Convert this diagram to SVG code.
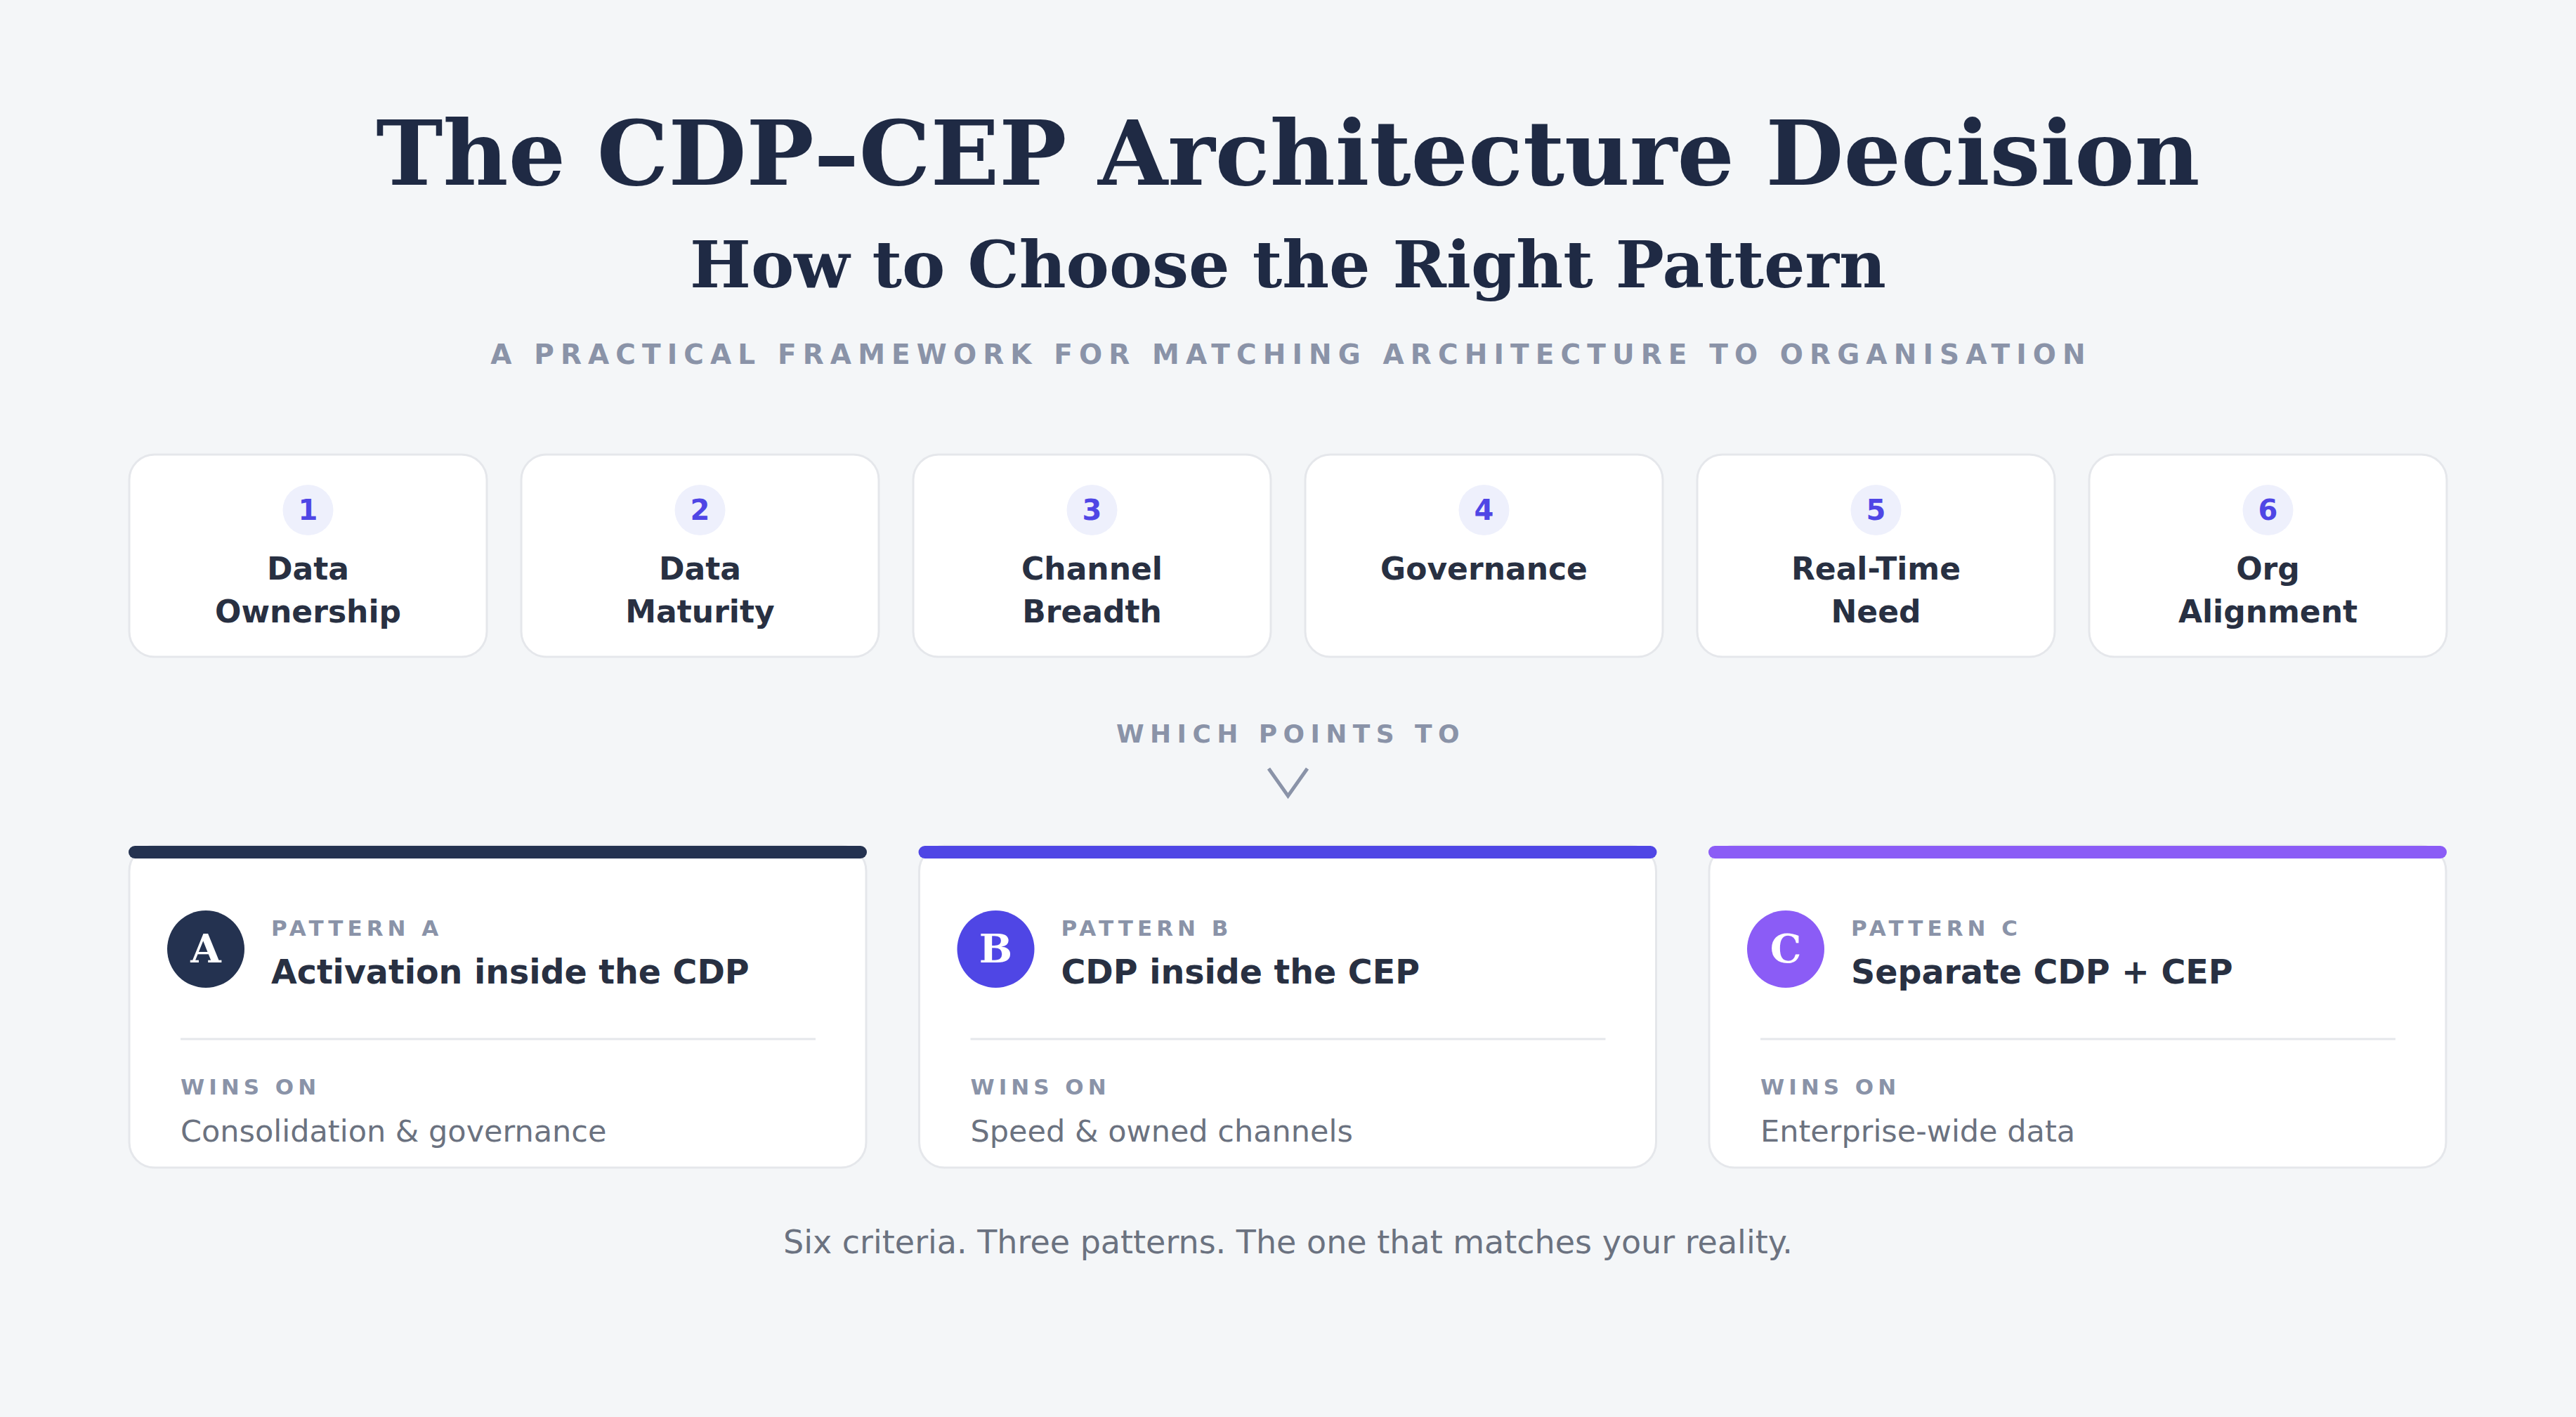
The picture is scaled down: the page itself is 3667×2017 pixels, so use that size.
<svg xmlns="http://www.w3.org/2000/svg" width="3667" height="2017" viewBox="0 0 3667 2017">
<style>
.serif{font-family:"DejaVu Serif","Liberation Serif",serif;font-weight:bold}
.sans{font-family:"DejaVu Sans","Liberation Sans",sans-serif}
.title{fill:#1f2a44}
.tag{font-weight:bold;fill:#8a93a8}
.card{fill:#ffffff;stroke:#e5e7eb;stroke-width:3}
.numc{fill:#eef0fc}
.num{font-weight:bold;font-size:40px;fill:#4f46e5;text-anchor:middle}
.lab{font-weight:bold;font-size:44px;fill:#283042;text-anchor:middle}
.ptag{font-weight:bold;font-size:31px;fill:#8a93a8;letter-spacing:6px}
.pname{font-weight:bold;font-size:47.5px;fill:#283042}
.win{font-size:43px;fill:#6b7280}
.div{stroke:#e5e7eb;stroke-width:3}
.letter{font-size:56px;fill:#ffffff;text-anchor:middle}
</style>
<rect x="0" y="0" width="3667" height="2017" fill="#f4f6f8"/>

<g id="header">
<text class="serif title" x="1833.5" y="263" font-size="128" text-anchor="middle">The CDP–CEP Architecture Decision</text>
<text class="serif title" x="1833.5" y="409" font-size="92" text-anchor="middle">How to Choose the Right Pattern</text>
<text class="sans tag" x="1838" y="518" font-size="39" letter-spacing="9.1" text-anchor="middle">A PRACTICAL FRAMEWORK FOR MATCHING ARCHITECTURE TO ORGANISATION</text>
</g>

<g id="criterion-1">
<rect class="card" x="184" y="647" width="509" height="288" rx="36"/>
<circle class="numc" cx="438.5" cy="726" r="36"/>
<text class="sans num" x="438.5" y="740">1</text>
<text class="sans lab" x="438.5" y="825">Data</text>
<text class="sans lab" x="438.5" y="886">Ownership</text>
</g>
<g id="criterion-2">
<rect class="card" x="742" y="647" width="509" height="288" rx="36"/>
<circle class="numc" cx="996.5" cy="726" r="36"/>
<text class="sans num" x="996.5" y="740">2</text>
<text class="sans lab" x="996.5" y="825">Data</text>
<text class="sans lab" x="996.5" y="886">Maturity</text>
</g>
<g id="criterion-3">
<rect class="card" x="1300" y="647" width="509" height="288" rx="36"/>
<circle class="numc" cx="1554.5" cy="726" r="36"/>
<text class="sans num" x="1554.5" y="740">3</text>
<text class="sans lab" x="1554.5" y="825">Channel</text>
<text class="sans lab" x="1554.5" y="886">Breadth</text>
</g>
<g id="criterion-4">
<rect class="card" x="1858" y="647" width="509" height="288" rx="36"/>
<circle class="numc" cx="2112.5" cy="726" r="36"/>
<text class="sans num" x="2112.5" y="740">4</text>
<text class="sans lab" x="2112.5" y="825">Governance</text>
</g>
<g id="criterion-5">
<rect class="card" x="2416" y="647" width="509" height="288" rx="36"/>
<circle class="numc" cx="2670.5" cy="726" r="36"/>
<text class="sans num" x="2670.5" y="740">5</text>
<text class="sans lab" x="2670.5" y="825">Real-Time</text>
<text class="sans lab" x="2670.5" y="886">Need</text>
</g>
<g id="criterion-6">
<rect class="card" x="2974" y="647" width="509" height="288" rx="36"/>
<circle class="numc" cx="3228.5" cy="726" r="36"/>
<text class="sans num" x="3228.5" y="740">6</text>
<text class="sans lab" x="3228.5" y="825">Org</text>
<text class="sans lab" x="3228.5" y="886">Alignment</text>
</g>

<g id="connectors">
<text class="sans tag" x="1837.5" y="1057" font-size="36" letter-spacing="8.4" text-anchor="middle">WHICH POINTS TO</text>
<polyline points="1806,1094 1833.5,1133 1861,1094" fill="none" stroke="#8a93a8" stroke-width="5"/>
</g>

<g id="pattern-a">
<rect class="card" x="184" y="1204" width="1049" height="458" rx="36"/>
<rect x="183" y="1204" width="1051" height="18" rx="9" fill="#243250"/>
<circle cx="293" cy="1351" r="55" fill="#243250"/>
<text class="serif letter" x="293" y="1370">A</text>
<text class="sans ptag" x="386" y="1332">PATTERN A</text>
<text class="sans pname" x="386" y="1400">Activation inside the CDP</text>
<line class="div" x1="257" y1="1479" x2="1161" y2="1479"/>
<text class="sans ptag" x="257" y="1558">WINS ON</text>
<text class="sans win" x="257" y="1625">Consolidation &amp; governance</text>
</g>
<g id="pattern-b">
<rect class="card" x="1308.5" y="1204" width="1049" height="458" rx="36"/>
<rect x="1307.5" y="1204" width="1051" height="18" rx="9" fill="#4f46e5"/>
<circle cx="1417.5" cy="1351" r="55" fill="#4f46e5"/>
<text class="serif letter" x="1417.5" y="1370">B</text>
<text class="sans ptag" x="1510.5" y="1332">PATTERN B</text>
<text class="sans pname" x="1510.5" y="1400">CDP inside the CEP</text>
<line class="div" x1="1381.5" y1="1479" x2="2285.5" y2="1479"/>
<text class="sans ptag" x="1381.5" y="1558">WINS ON</text>
<text class="sans win" x="1381.5" y="1625">Speed &amp; owned channels</text>
</g>
<g id="pattern-c">
<rect class="card" x="2433" y="1204" width="1049" height="458" rx="36"/>
<rect x="2432" y="1204" width="1051" height="18" rx="9" fill="#8b5cf6"/>
<circle cx="2542" cy="1351" r="55" fill="#8b5cf6"/>
<text class="serif letter" x="2542" y="1370">C</text>
<text class="sans ptag" x="2635" y="1332">PATTERN C</text>
<text class="sans pname" x="2635" y="1400">Separate CDP + CEP</text>
<line class="div" x1="2506" y1="1479" x2="3410" y2="1479"/>
<text class="sans ptag" x="2506" y="1558">WINS ON</text>
<text class="sans win" x="2506" y="1625">Enterprise-wide data</text>
</g>

<g id="footer">
<text class="sans" x="1833.5" y="1784" font-size="46" fill="#6b7280" text-anchor="middle">Six criteria. Three patterns. The one that matches your reality.</text>
</g>
</svg>
